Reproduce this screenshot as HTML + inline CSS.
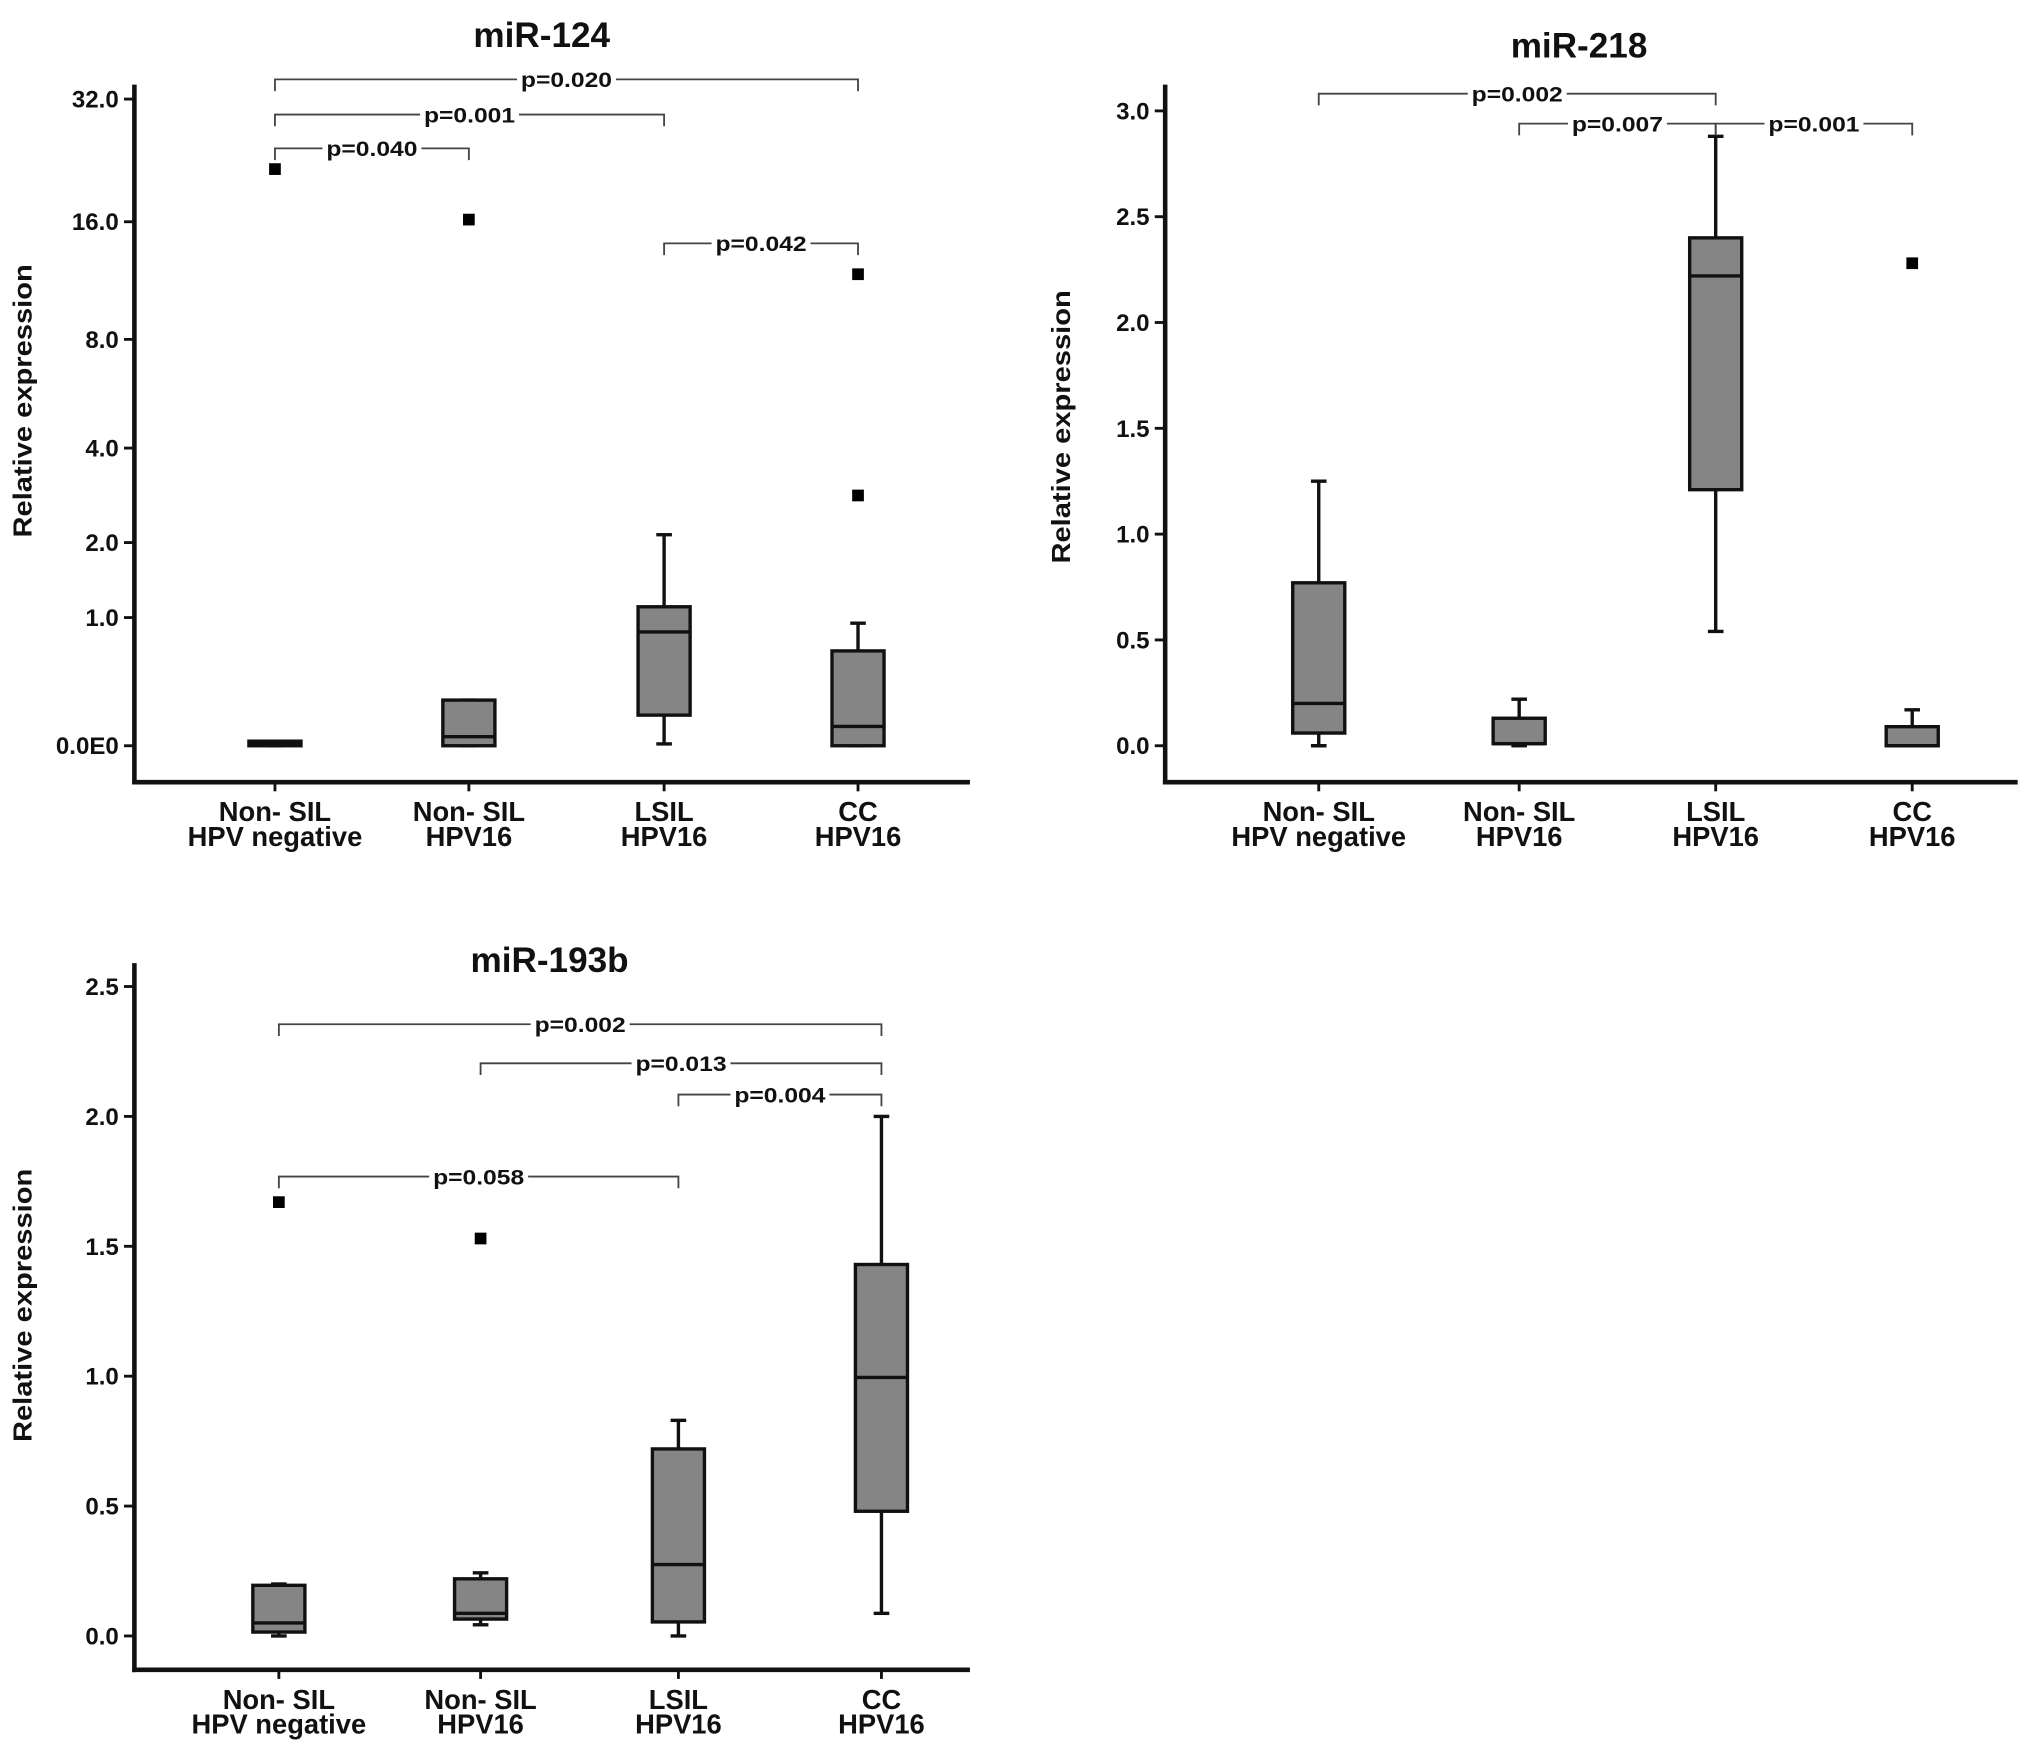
<!DOCTYPE html>
<html><head><meta charset="utf-8"><style>
html,body{margin:0;padding:0;background:#fff;}
svg{display:block;}
text{font-family:"Liberation Sans",Arial,sans-serif;font-weight:bold;fill:#111;}
</style></head><body>
<svg id="fig" width="2031" height="1757" viewBox="0 0 1560 1350" xmlns="http://www.w3.org/2000/svg"></svg>
<script>
// ---- categories (shared) ----
const catLine1 = ["Non- SIL","Non- SIL","LSIL","CC"];
const catLine2 = ["HPV negative","HPV16","HPV16","HPV16"];

// ---- miR-124 ----
const p1TickVals = [0,1,2,4,8,16,32];
const p1TickLabels = ["0.0E0","1.0","2.0","4.0","8.0","16.0","32.0"];
const p1Lo  = [0, 0, 0.01, 0];
const p1Q1  = [0, 0, 0.18, 0];
const p1Med = [0.01, 0.05, 0.85, 0.11];
const p1Q3  = [0.025, 0.28, 1.12, 0.67];
const p1Hi  = [0.025, 0.28, 2.13, 0.94];
const p1Outliers = [[21.6],[16.2],[],[11.8,2.87]];
const p1Brackets = [[0,3,"p=0.020"],[0,2,"p=0.001"],[0,1,"p=0.040"],[2,3,"p=0.042"]];
const p1BracketLevels = [61,88,114,187];

// ---- miR-218 ----
const p2TickVals = [0,0.5,1,1.5,2,2.5,3];
const p2TickLabels = ["0.0","0.5","1.0","1.5","2.0","2.5","3.0"];
const p2Lo  = [0, 0, 0.54, 0];
const p2Q1  = [0.06, 0.01, 1.21, 0];
const p2Med = [0.2, 0.01, 2.22, 0];
const p2Q3  = [0.77, 0.13, 2.40, 0.09];
const p2Hi  = [1.25, 0.22, 2.88, 0.17];
const p2Outliers = [[],[],[],[2.28]];
const p2Brackets = [[0,2,"p=0.002"],[1,2,"p=0.007"],[2,3,"p=0.001"]];
const p2BracketLevels = [72,95,95];

// ---- miR-193b ----
const p3TickVals = [0,0.5,1,1.5,2,2.5];
const p3TickLabels = ["0.0","0.5","1.0","1.5","2.0","2.5"];
const p3Lo  = [0, 0.043, 0, 0.087];
const p3Q1  = [0.015, 0.065, 0.054, 0.48];
const p3Med = [0.05, 0.087, 0.275, 0.995];
const p3Q3  = [0.195, 0.22, 0.72, 1.43];
const p3Hi  = [0.2, 0.243, 0.83, 2.0];
const p3Outliers = [[1.67],[1.53],[],[]];
const p3Brackets = [[0,3,"p=0.002"],[1,3,"p=0.013"],[2,3,"p=0.004"],[0,2,"p=0.058"]];
const p3BracketLevels = [787,817,841,904];

const NS="http://www.w3.org/2000/svg";
const svg=document.getElementById('fig');
function mk(tag,attrs,parent){const e=document.createElementNS(NS,tag);for(const k in attrs)e.setAttribute(k,attrs[k]);(parent||svg).appendChild(e);return e;}

function panel(cfg){
  const g=mk('g',{});
  
  
  const y=cfg.yScale, x=i=>cfg.catX[i];
  const t=mk('text',{x:cfg.titleX,y:cfg.titleY,'font-size':27,'text-anchor':'middle'},g);
  t.textContent=cfg.title;
  
  
  const yt=mk('text',{x:0,y:0,'font-size':20,'text-anchor':'middle',textLength:210,lengthAdjust:'spacingAndGlyphs',transform:`translate(${cfg.yTitleX},${cfg.yTitleY}) rotate(-90)`},g);
  yt.textContent='Relative  expression';
  
  
  const ya=mk('line',{x1:cfg.ax,y1:cfg.axTop,x2:cfg.ax,y2:cfg.axY+1.75,stroke:'#111','stroke-width':3.5},g);
  
  
  const xa=mk('line',{x1:cfg.ax-1.75,y1:cfg.axY,x2:cfg.axRight,y2:cfg.axY,stroke:'#111','stroke-width':3.5},g);
  
  
  cfg.tickVals.forEach((v,i)=>{
    mk('line',{x1:cfg.ax-8,y1:y(v),x2:cfg.ax,y2:y(v),stroke:'#111','stroke-width':2.2},g);
    const tl=mk('text',{x:cfg.ax-12,y:y(v)+6.5,'font-size':18.5,'text-anchor':'end'},g);
    tl.textContent=cfg.tickLabels[i];
    
    
  });
  for(let i=0;i<4;i++){
    mk('line',{x1:x(i),y1:cfg.axY,x2:x(i),y2:cfg.axY+7,stroke:'#111','stroke-width':2.2},g);
    const l1=mk('text',{x:x(i),y:cfg.axY+30,'font-size':21,'text-anchor':'middle'},g);
    l1.textContent=catLine1[i];
    
    
    const l2=mk('text',{x:x(i),y:cfg.axY+49,'font-size':21,'text-anchor':'middle'},g);
    l2.textContent=catLine2[i];
    
    
    const hw=20, cw=6;
    const bg=mk('g',{},g);
    
    
    mk('line',{x1:x(i),y1:y(cfg.hi[i]),x2:x(i),y2:y(cfg.lo[i]),stroke:'#111','stroke-width':2.6},bg);
    mk('line',{x1:x(i)-cw,y1:y(cfg.hi[i]),x2:x(i)+cw,y2:y(cfg.hi[i]),stroke:'#111','stroke-width':2.6},bg);
    mk('line',{x1:x(i)-cw,y1:y(cfg.lo[i]),x2:x(i)+cw,y2:y(cfg.lo[i]),stroke:'#111','stroke-width':2.6},bg);
    const top=y(cfg.q3[i]), bot=y(cfg.q1[i]);
    mk('rect',{x:x(i)-hw,y:top,width:2*hw,height:Math.max(bot-top,1.5),fill:'#858585',stroke:'#111','stroke-width':2.6},bg);
    mk('line',{x1:x(i)-hw,y1:y(cfg.med[i]),x2:x(i)+hw,y2:y(cfg.med[i]),stroke:'#111','stroke-width':2.6},bg);
    cfg.out[i].forEach(v=>{
      const o=mk('rect',{x:x(i)-4.5,y:y(v)-4.5,width:9,height:9,fill:'#000'},g);
      
      
    });
  }
  cfg.brackets.forEach((b,k)=>{
    const by=cfg.bLevels[k], x1=x(b[0]), x2=x(b[1]);
    const bg=mk('g',{},g);
    
    
    mk('polyline',{points:`${x1},${by+9} ${x1},${by} ${x2},${by} ${x2},${by+9}`,fill:'none',stroke:'#444','stroke-width':1.4},bg);
    const cx=(x1+x2)/2;
    mk('rect',{x:cx-38,y:by-9,width:76,height:18,fill:'#fff'},bg);
    const pt=mk('text',{x:cx,y:by+6,'font-size':16.5,'text-anchor':'middle',textLength:70,lengthAdjust:'spacingAndGlyphs'},bg);
    pt.textContent=b[2];
    
    
  });
}

panel({name:'mir-124-chart',title:'miR-124',titleX:416,titleY:36,yTitleX:24,yTitleY:308,
  ax:103,axTop:65,axY:601,axRight:745,catX:[211,360,510,659],
  yScale:v=>573-98.5*Math.log2(v+1),tickVals:p1TickVals,tickLabels:p1TickLabels,
  lo:p1Lo,q1:p1Q1,med:p1Med,q3:p1Q3,hi:p1Hi,out:p1Outliers,brackets:p1Brackets,bLevels:p1BracketLevels});
panel({name:'mir-218-chart',title:'miR-218',titleX:1213,titleY:44,yTitleX:822,yTitleY:328,
  ax:895,axTop:65,axY:601,axRight:1550,catX:[1013,1167,1318,1469],
  yScale:v=>573-162.6*v,tickVals:p2TickVals,tickLabels:p2TickLabels,
  lo:p2Lo,q1:p2Q1,med:p2Med,q3:p2Q3,hi:p2Hi,out:p2Outliers,brackets:p2Brackets,bLevels:p2BracketLevels});
panel({name:'mir-193b-chart',title:'miR-193b',titleX:422,titleY:747,yTitleX:24,yTitleY:1003,
  ax:103,axTop:740,axY:1283,axRight:745,catX:[214,369,521,677],
  yScale:v=>1257-199.6*v,tickVals:p3TickVals,tickLabels:p3TickLabels,
  lo:p3Lo,q1:p3Q1,med:p3Med,q3:p3Q3,hi:p3Hi,out:p3Outliers,brackets:p3Brackets,bLevels:p3BracketLevels});
</script>
</body></html>
